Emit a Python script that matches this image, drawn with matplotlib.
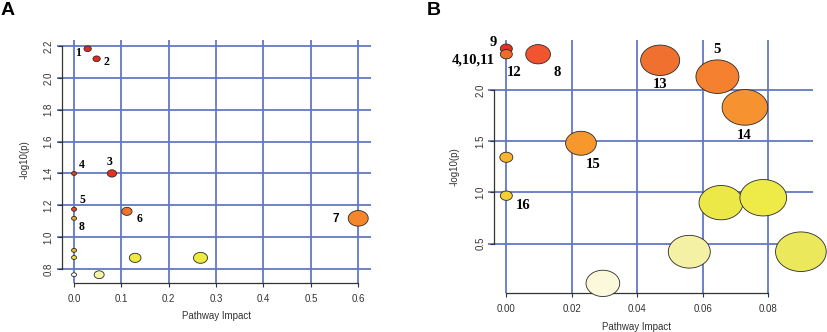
import matplotlib
matplotlib.use("Agg")
import matplotlib.pyplot as plt
import numpy as np
from matplotlib.path import Path

# ---------------- data ----------------
# Panel A
impact_a = [0.0, 0.053, 0.0, 0.0, 0.129, 0.267, 0.0, 0.0, 0.0, 0.0287, 0.0476, 0.080, 0.1116, 0.6]
logp_a = [0.764, 0.764, 0.872, 0.917, 0.870, 0.870, 1.118, 1.175, 1.400, 2.183, 2.120, 1.400, 1.162, 1.118]
labels_a = ["", "", "", "", "", "", "8", "5", "4", "1", "2", "3", "6", "7"]
colors_a = ["#fffff4", "#f6f2a8", "#f0e040", "#f6b52a", "#eeea40", "#eeea40", "#f4a028",
            "#ec4a22", "#e83a20", "#e8281c", "#e8281c", "#ea2e1e", "#f07428", "#f5862c"]
width_a = [5, 10, 5, 5, 11.7, 14, 5, 5, 5, 7.3, 7.3, 9.3, 10.3, 20]

# Panel B
impact_b = [0.0295, 0.0559, 0.090, 0.0656, 0.0785, 0.0, 0.0, 0.0228, 0.0729,
            0.0645, 0.047, 0.0097, 0.0, 0.0]
logp_b = [0.112, 0.421, 0.421, 0.900, 0.948, 0.968, 1.343, 1.480, 1.830,
          2.130, 2.290, 2.349, 2.403, 2.349]
labels_b = ["", "", "", "", "", "16", "", "15", "14", "5", "13", "8", "9", "12"]
colors_b = ["#fbf8dc", "#f4f0a4", "#ece85c", "#ece848", "#eeea48", "#f5d030", "#f7b430",
            "#f7982c", "#f79230", "#f58030", "#f07030", "#f05530", "#e83020", "#f06a2c"]
width_b = [33.7, 42, 50.7, 44, 46.7, 12, 13, 30.7, 45.7, 43, 39, 24.7, 12, 12]

xticks_a = [0.0, 0.1, 0.2, 0.3, 0.4, 0.5, 0.6]
yticks_a = [0.8, 1.0, 1.2, 1.4, 1.6, 1.8, 2.0, 2.2]
xticks_b = [0.00, 0.02, 0.04, 0.06, 0.08]
yticks_b = [0.5, 1.0, 1.5, 2.0]

# label placement (pixel offsets from the bubble centre)
offsets_a = {"1": (-10, -4), "2": (10, -3), "3": (-2, 11), "4": (8, 8), "5": (8, 9),
             "6": (13, -8), "7": (-22, -1), "8": (8, -9)}
offsets_b = {"9": (-13, 6), "12": (8, -18), "8": (19, -18), "13": (0, -24), "5": (0, 27),
             "14": (-1, -28), "15": (12, -21), "16": (17, -10)}

# ---------------- style ----------------
DPI = 100
GRID = "#6378c6"
TICK_FONT = ["Liberation Sans", "DejaVu Sans"]
LABEL_FONT = ["Liberation Serif", "DejaVu Serif"]

# elliptical bubble marker (wider than tall)
t = np.linspace(0, 2 * np.pi, 80)
ellipse = Path(np.column_stack([np.cos(t), 0.78 * np.sin(t)]), closed=True)


def draw_panel(ax, x, y, colors, widths, labels, offsets, xticks, yticks,
               xlim, ylim, spine_x, xfmt, lab_size):
    ax.set_xlim(*xlim)
    ax.set_ylim(*ylim)
    for v in xticks:
        ax.axvline(v, color=GRID, lw=1.3, zorder=1)
    for v in yticks:
        ax.axhline(v, color=GRID, lw=1.3, zorder=1)

    sizes = [(w * 72 / DPI) ** 2 for w in widths]
    ax.scatter(x, y, s=sizes, c=colors, marker=ellipse, edgecolors="#2a2a2a",
               linewidths=0.6, zorder=3, clip_on=False)

    for xi, yi, lab in zip(x, y, labels):
        if not lab:
            continue
        dx, dy = offsets[lab]
        ax.annotate(lab, (xi, yi), xytext=(dx, dy), textcoords="offset pixels",
                    ha="center", va="center", fontsize=lab_size, fontweight="bold",
                    family=LABEL_FONT, zorder=4)

    for s in ("top", "right"):
        ax.spines[s].set_visible(False)
    ax.spines["left"].set_position(("data", spine_x))
    ax.spines["left"].set_bounds(yticks[0], yticks[-1])
    ax.spines["bottom"].set_bounds(xticks[0], xticks[-1])
    for s in ("left", "bottom"):
        ax.spines[s].set_color("#333333")
        ax.spines[s].set_linewidth(0.9)
        ax.spines[s].set_zorder(2)

    ax.set_xticks(xticks)
    ax.set_xticklabels([xfmt.format(v) for v in xticks])
    ax.set_yticks(yticks)
    ax.set_yticklabels(["{:.1f}".format(v) for v in yticks], rotation=90, va="center")
    ax.tick_params(direction="out", length=3.2, width=0.8, color="#333333",
                   labelsize=7, labelcolor="#333333")
    ax.tick_params(axis="x", pad=4.5)
    ax.tick_params(axis="y", pad=3)
    for lbl in ax.get_xticklabels() + ax.get_yticklabels():
        lbl.set_family(TICK_FONT)
    ax.set_facecolor("none")


fig = plt.figure(figsize=(827 / DPI, 332 / DPI), dpi=DPI)

ax_a = fig.add_axes([57 / 827, 1 - 283 / 332, 314 / 827, 243 / 332])
draw_panel(ax_a, impact_a, logp_a, colors_a, width_a, labels_a, offsets_a,
           xticks_a, yticks_a, (-0.036, 0.627), (0.712, 2.238), -0.025, "{:.1f}", 8.5)
# the "7" label is set in a sans face
for txt in ax_a.texts:
    if txt.get_text() == "7":
        txt.set_family(["Liberation Sans", "DejaVu Sans"])

ax_b = fig.add_axes([488 / 827, 1 - 293.3 / 332, 325 / 827, 253.3 / 332])
draw_panel(ax_b, impact_b, logp_b, colors_b, width_b, labels_b, offsets_b,
           xticks_b, yticks_b, (-0.0056, 0.0937), (0.015, 2.488), -0.00376, "{:.2f}", 10.5)
# shared label for the overlapping points at the top-left of panel B
ax_b.annotate("4,10,11", (0.0, 2.349), xytext=(-33, -6), textcoords="offset pixels",
              ha="center", va="center", fontsize=10.5, fontweight="bold",
              family=LABEL_FONT, zorder=4)

# axis titles
fig.text(216 / 827, 1 - 316 / 332, "Pathway Impact",
         ha="center", va="center", fontsize=7, color="#333333", family=TICK_FONT)
fig.text(25 / 827, 1 - 160 / 332, "-log10(p)", rotation=90, ha="center", va="center",
         fontsize=7, color="#333333", family=TICK_FONT)
fig.text(637 / 827, 1 - 327 / 332, "Pathway Impact",
         ha="center", va="center", fontsize=7, color="#333333", family=TICK_FONT)
fig.text(455 / 827, 1 - 167 / 332, "-log10(p)", rotation=90, ha="center", va="center",
         fontsize=7, color="#333333", family=TICK_FONT)

# panel letters
PANEL_FONT = ["Liberation Sans Narrow", "Liberation Sans", "DejaVu Sans"]
fig.text(1 / 827, 1 - 2 / 332, "A", ha="left", va="top", fontsize=14,
         fontweight="bold", family=PANEL_FONT)
fig.text(427 / 827, 1 - 2 / 332, "B", ha="left", va="top", fontsize=14,
         fontweight="bold", family=PANEL_FONT)

fig.savefig("out.png", dpi=DPI)
